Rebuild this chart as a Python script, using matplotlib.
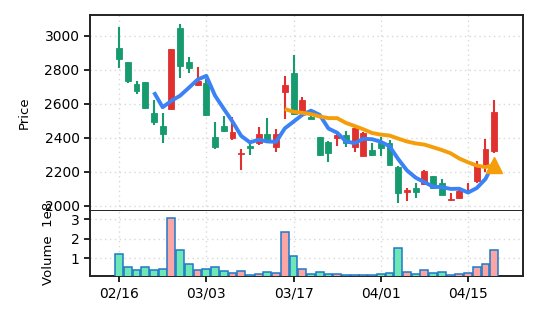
import numpy as np
import matplotlib
matplotlib.use("Agg")
import matplotlib.pyplot as plt

# ---- data ----
opens  = [2929, 2843, 2714, 2725, 2543, 2469, 2567, 3043, 2847, 2708,
          2720, 2402, 2467, 2400, 2305, 2351, 2370, 2421, 2343, 2667,
          2778, 2549, 2523, 2402, 2374, 2400, 2414, 2347, 2294, 2325,
          2367, 2367, 2229, 2080, 2102, 2127, 2173, 2131, 2031, 2043,
          2085, 2147, 2229, 2323]
highs  = [3053, 2843, 2733, 2727, 2622, 2543, 2924, 3069, 2873, 2814,
          2745, 2492, 2527, 2520, 2333, 2382, 2465, 2518, 2453, 2763,
          2886, 2637, 2560, 2406, 2380, 2425, 2439, 2461, 2431, 2370,
          2406, 2386, 2231, 2103, 2131, 2210, 2175, 2155, 2074, 2090,
          2134, 2265, 2392, 2622]
lows   = [2812, 2723, 2659, 2571, 2475, 2367, 2561, 2749, 2782, 2706,
          2528, 2331, 2435, 2386, 2210, 2300, 2358, 2376, 2318, 2512,
          2535, 2549, 2508, 2294, 2259, 2353, 2343, 2318, 2294, 2294,
          2294, 2237, 2018, 2029, 2048, 2121, 2100, 2062, 2029, 2040,
          2080, 2135, 2200, 2312]
closes = [2861, 2735, 2672, 2576, 2494, 2420, 2924, 2824, 2808, 2733,
          2531, 2343, 2437, 2431, 2312, 2340, 2421, 2386, 2421, 2708,
          2537, 2622, 2508, 2296, 2308, 2414, 2367, 2455, 2425, 2296,
          2337, 2237, 2076, 2093, 2082, 2206, 2102, 2064, 2041, 2086,
          2095, 2234, 2331, 2549]
volume_1e8 = [1.22, 0.55, 0.40, 0.55, 0.40, 0.45, 3.07, 1.43, 0.71, 0.38,
              0.45, 0.55, 0.34, 0.22, 0.33, 0.14, 0.17, 0.29, 0.22, 2.34,
              1.12, 0.43, 0.19, 0.29, 0.19, 0.17, 0.14, 0.14, 0.14, 0.14,
              0.19, 0.24, 1.53, 0.29, 0.19, 0.40, 0.24, 0.29, 0.16, 0.19,
              0.24, 0.55, 0.71, 1.43]
tick_positions = [0, 10, 20, 30, 40]
tick_labels = ["02/16", "03/03", "03/17", "04/01", "04/15"]
mav_short, mav_long = 5, 20

o = np.array(opens, float); h = np.array(highs, float)
l = np.array(lows, float); c = np.array(closes, float)
v = np.array(volume_1e8, float)
x = np.arange(len(c))
up = c >= o

UP_C = "#e0302f"
DN_C = "#169a6e"
VUP = "#fca5a5"
VDN = "#6ee7b7"
VEDGE = "#1f78c8"

fig = plt.figure(figsize=(5.37, 3.22), dpi=100)
L, R = 90/537, 523/537
ax = fig.add_axes([L, 1-211/322, R-L, (211-15)/322])
axv = fig.add_axes([L, 1-276/322, R-L, (276-211)/322], sharex=ax)

for a in (ax, axv):
    a.grid(True, color="#d8d8d8", linestyle=(0, (1, 2.5)), linewidth=1.0)
    a.set_axisbelow(True)
    for s in a.spines.values():
        s.set_color("#222222"); s.set_linewidth(1.4)

cols = np.where(up, UP_C, DN_C)
ax.vlines(x, l, h, colors=cols, linewidth=1.5, zorder=2)
body_b = np.minimum(o, c)
body_h = np.maximum(np.abs(c - o), 6)
ax.bar(x, body_h, bottom=body_b, width=0.68, color=cols,
       edgecolor=cols, linewidth=0.6, zorder=3)

sma_s = np.convolve(c, np.ones(mav_short)/mav_short, mode="valid")
sma_l = np.convolve(c, np.ones(mav_long)/mav_long, mode="valid")
ax.plot(x[mav_short-1:], sma_s, color="#3b82f6", linewidth=2.8, zorder=4,
        solid_capstyle="butt")
ax.plot(x[mav_long-1:], sma_l, color="#f59e0b", linewidth=2.8, zorder=4,
        solid_capstyle="butt")
ax.plot([x[-1]], [sma_l[-1]], marker="^", markersize=11, color="#f59e0b",
        linestyle="none", zorder=5)

ax.set_ylim(1969, 3122)
ax.set_yticks([2000, 2200, 2400, 2600, 2800, 3000])
ax.set_xlim(-3.33, 46.3)
ax.set_ylabel("Price", fontsize=9.5, labelpad=10)
ax.tick_params(axis="x", labelbottom=False, length=0)
ax.tick_params(axis="y", labelsize=10, length=4, width=1.2)

vcols = np.where(up, VUP, VDN)
axv.bar(x, v, width=0.9, color=vcols, edgecolor=VEDGE, linewidth=1.1, zorder=3)
axv.set_ylim(0.086, 3.43)
axv.set_yticks([1, 2, 3])
axv.set_xticks(tick_positions)
axv.set_xticklabels(tick_labels)
axv.tick_params(labelsize=10, length=4, width=1.2)
axv.set_ylabel("Volume  1e8", fontsize=9.5, labelpad=11)
axv.spines["top"].set_visible(False)

fig.savefig("out.png", dpi=100)
